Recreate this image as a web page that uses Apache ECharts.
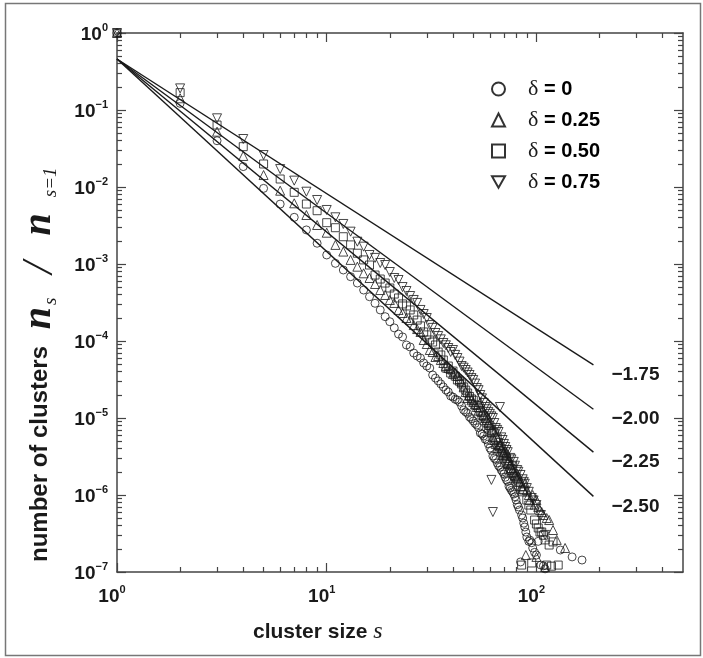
<!DOCTYPE html>
<html>
<head>
<meta charset="utf-8">
<script src="https://cdn.jsdelivr.net/npm/echarts@6/dist/echarts.min.js"></script>
<style>
html, body { margin: 0; padding: 0; background: #fff; }
#chart { width: 703px; height: 658px; }
</style>
</head>
<body>
<div id="chart"></div>
<script>
// cluster size s, n_s / n_(s=1)
var delta0 = [[1,1],[2,0.122],[3,0.0399],[4,0.0184],[5,0.0096],[6,0.0060],[7,0.00404],[8,0.00277],[9,0.00186],[10,0.00131],
    [11,0.00102],[12,8.36e-4],[13,6.84e-4],[14,5.66e-4],[15,4.59e-4],[16,3.76e-4],[17,3.09e-4],[18,2.53e-4],[19,2.07e-4],[20,1.78e-4],
    [21,1.48e-4],[22,1.23e-4],[23,1.13e-4],[24,8.87e-5],[25,8.36e-5],[26,6.98e-5],[27,6.38e-5],[28,6.01e-5],[29,5.18e-5],[30,4.73e-5],
    [31,4.46e-5],[32,3.62e-5],[33,3.30e-5],[34,3.03e-5],[35,2.77e-5],[36,2.53e-5],[37,2.31e-5],[38,2.18e-5],[39,1.93e-5],[40,1.87e-5],
    [41,1.75e-5],[42,1.71e-5],[43,1.61e-5],[44,1.43e-5],[45,1.27e-5],[46,1.20e-5],[47,1.15e-5],[48,1.03e-5],[49,9.8e-6],[50,9.14e-6],
    [51,8.5e-6],[52,8.11e-6],[53,7.5e-6],[54,6.38e-6],[55,6.2e-6],[56,5.83e-6],[57,5.3e-6],[58,5.18e-6],[59,4.6e-6],[60,4.07e-6],
    [61,3.8e-6],[62,3.21e-6],[63,3.0e-6],[64,2.9e-6],[65,2.61e-6],[66,2.4e-6],[67,2.3e-6],[68,2.11e-6],[69,2.0e-6],[70,1.87e-6],
    [71,1.7e-6],[72,1.57e-6],[73,1.5e-6],[74,1.3e-6],[75,1.23e-6],[76,1.15e-6],[77,1.1e-6],[78,1.03e-6],[79,9.5e-7],[80,8.61e-7],
    [81,7.5e-7],[82,7.0e-7],[83,6.38e-7],[84,1.35e-7],[85,5.5e-7],[86,5.02e-7],[87,4.3e-7],[88,3.84e-7],[89,3.3e-7],[90,2.85e-7],
    [92,2.5e-7],[93,2.60e-7],[95,2.4e-7],[96,2.05e-7],[98,1.8e-7],[100,1.66e-7],[102,2.5e-7],[105,1.23e-7],[108,1.2e-7],[110,1.10e-7],
    [130,1.93e-7],[148,1.57e-7],[165,1.43e-7]];

var delta25 = [[1,1],[2,0.142],[3,0.0523],[4,0.0253],[5,0.0143],[6,0.00895],[7,0.00614],[8,0.00433],[9,0.00321],[10,0.00255],
    [11,0.00177],[12,0.00145],[13,0.00113],[14,9.23e-4],[15,7.57e-4],[16,6.58e-4],[17,5.50e-4],[18,4.59e-4],[19,3.96e-4],[20,3.41e-4],
    [21,3.12e-4],[22,2.53e-4],[23,2.31e-4],[24,1.99e-4],[25,1.87e-4],[26,1.61e-4],[27,1.43e-4],[28,1.31e-4],[29,1.03e-4],[30,9.14e-5],
    [31,7.64e-5],[32,7.19e-5],[33,6.20e-5],[34,6.38e-5],[35,5.66e-5],[36,5.18e-5],[37,4.73e-5],[38,4.46e-5],[39,4.33e-5],[40,3.73e-5],
    [41,3.9e-5],[42,3.51e-5],[43,3.2e-5],[44,2.94e-5],[45,2.5e-5],[46,2.18e-5],[47,1.82e-5],[48,1.99e-5],[49,1.7e-5],[50,1.61e-5],
    [51,1.5e-5],[52,1.39e-5],[53,1.25e-5],[54,1.61e-5],[55,1.2e-5],[56,1.09e-5],[57,1.0e-5],[58,9.42e-6],[59,8.6e-6],[60,8.11e-6],
    [61,6.9e-6],[62,5.66e-6],[63,5.18e-6],[64,4.6e-6],[65,4.07e-6],[66,4.4e-6],[67,4.46e-6],[68,3.9e-6],[69,3.3e-6],[70,3.62e-6],
    [71,3.0e-6],[72,3.53e-6],[73,2.6e-6],[74,2.85e-6],[75,2.5e-6],[76,2.24e-6],[77,2.1e-6],[78,1.99e-6],[79,1.8e-6],[80,1.66e-6],
    [82,1.75e-6],[83,1.5e-6],[85,1.31e-6],[86,1.2e-6],[88,1.42e-6],[89,1.66e-7],[90,1.16e-6],[92,1.0e-6],[93,8.61e-7],[96,1.0e-6],
    [98,7.5e-7],[100,8.61e-7],[100,1.57e-7],[102,7.0e-7],[104,6.38e-7],[106,6.0e-7],[108,5.50e-7],[110,1.16e-7],[112,5.02e-7],
    [115,4.73e-7],[120,3.51e-7],[125,2.61e-7],[137,2.05e-7]];

var delta50 = [[1,1],[2,0.168],[3,0.0638],[4,0.0334],[5,0.0199],[6,0.0127],[7,0.00853],[8,0.00601],[9,0.00492],[10,0.00344],
    [11,0.00296],[12,0.00226],[13,0.00177],[14,0.00138],[15,0.00113],[16,9.70e-4],[17,7.19e-4],[18,6.38e-4],[19,5.66e-4],[20,4.88e-4],
    [21,4.07e-4],[22,3.62e-4],[23,3.03e-4],[24,2.85e-4],[25,2.53e-4],[26,2.18e-4],[27,1.87e-4],[28,1.57e-4],[29,1.31e-4],[30,1.20e-4],
    [31,1.03e-4],[32,9.70e-5],[33,8.87e-5],[34,7.19e-5],[35,6.58e-5],[36,5.66e-5],[37,4.46e-5],[38,4.73e-5],[39,3.84e-5],[40,4.07e-5],
    [41,3.5e-5],[42,3.12e-5],[43,3.0e-5],[44,2.77e-5],[45,2.53e-5],[46,2.3e-5],[47,2.11e-5],[48,1.9e-5],[49,1.77e-5],[50,1.7e-5],
    [51,1.48e-5],[52,1.45e-5],[53,1.35e-5],[54,1.2e-5],[55,1.09e-5],[56,1.05e-5],[57,1.0e-5],[58,8.8e-6],[59,7.41e-6],[60,7.9e-6],
    [61,6.98e-6],[62,6.5e-6],[63,6.38e-6],[64,5.3e-6],[65,5.50e-6],[66,4.8e-6],[67,4.20e-6],[68,4.0e-6],[69,3.62e-6],[70,3.4e-6],
    [71,3.21e-6],[72,3.0e-6],[73,2.69e-6],[74,2.5e-6],[75,2.11e-6],[76,2.2e-6],[77,2.38e-6],[78,1.9e-6],[79,1.77e-6],[80,1.7e-6],
    [81,1.57e-6],[82,1.45e-6],[84,1.27e-6],[85,1.23e-7],[86,1.1e-6],[87,1.16e-6],[90,8.61e-7],[92,7.4e-7],[94,6.38e-7],[95,1.31e-7],
    [98,4.73e-7],[100,4.2e-7],[102,3.73e-7],[104,3.3e-7],[106,3.31e-7],[108,3.0e-7],[110,2.61e-7],[112,1.23e-7],[115,2.24e-7],
    [118,1.19e-7],[120,2.46e-7],[127,1.23e-7]];

var delta75 = [[1,1],[2,0.191],[3,0.078],[4,0.042],[5,0.026],[6,0.0171],[7,0.0121],[8,0.00869],[9,0.00678],[10,0.00503],
    [11,0.00404],[12,0.00331],[13,0.00263],[14,0.00195],[15,0.00168],[16,0.00131],[17,1.20e-3],[18,1.03e-3],[19,9.70e-4],[20,7.87e-4],
    [21,6.58e-4],[22,6.20e-4],[23,5.02e-4],[24,4.46e-4],[25,3.84e-4],[26,3.41e-4],[27,3.12e-4],[28,2.53e-4],[29,2.24e-4],[30,1.99e-4],
    [31,1.61e-4],[32,1.48e-4],[33,1.27e-4],[34,1.16e-4],[35,1.05e-4],[36,9.42e-5],[37,8.8e-5],[38,8.11e-5],[39,7.2e-5],[40,7.64e-5],
    [41,6.6e-5],[42,6.01e-5],[43,5.4e-5],[44,4.73e-5],[45,4.5e-5],[46,4.20e-5],[47,3.9e-5],[48,3.62e-5],[49,3.3e-5],[50,3.12e-5],
    [51,2.8e-5],[52,2.45e-5],[53,2.3e-5],[54,1.99e-5],[55,1.8e-5],[56,1.57e-5],[57,1.39e-5],[58,1.3e-5],[59,1.2e-5],[60,1.13e-5],
    [61,1.05e-5],[61,1.57e-6],[62,1.0e-5],[62,6.01e-7],[63,8.6e-6],[64,7.41e-6],[65,7.0e-6],[66,6.58e-6],[67,1.39e-5],[68,5.6e-6],
    [69,5.18e-6],[70,4.6e-6],[71,4.2e-6],[72,3.84e-6],[73,3.6e-6],[75,3.03e-6],[76,2.9e-6],[78,2.69e-6],[79,2.4e-6],[81,2.11e-6],
    [82,2.0e-6],[84,1.82e-6],[86,1.6e-6],[87,1.48e-6],[88,1.4e-6],[90,1.23e-6],[92,1.1e-6],[95,9.14e-7],[97,8.5e-7],[100,7.41e-7],
    [105,5.50e-7],[110,3.03e-7]];

// power-law guide lines: common start, end at s = 187
var fitLabels = ['\u22121.75', '\u22122.00', '\u22122.25', '\u22122.50'];
var fitStart = [1, 0.46];
var fitEndS = 187;
var fitEndValues = [4.9e-5, 1.3e-5, 3.6e-6, 9.6e-7];

var legendNames = ['\u03b4 = 0', '\u03b4 = 0.25', '\u03b4 = 0.50', '\u03b4 = 0.75'];

// ticks
var xMajor = [1, 10, 100];
var xMinor = [2, 3, 4, 5, 6, 7, 8, 9, 20, 30, 40, 50, 60, 70, 80, 90, 200, 300, 400];
var yMajor = [1e-7, 1e-6, 1e-5, 1e-4, 1e-3, 1e-2, 1e-1, 1];
var yMinor = [];
for (var d = -7; d < 0; d++) {
    for (var k = 2; k <= 9; k++) {
        yMinor.push(parseFloat((k * Math.pow(10, d)).toPrecision(3)));
    }
}

var SANS = '"Liberation Sans", Arial, Helvetica, sans-serif';
var SERIF = '"Liberation Serif", "DejaVu Serif", serif';
var INK = '#1a1a1a';
var AXIS = '#444';

function powLabel(v) {
    var e = Math.round(Math.log10(v));
    var t = e < 0 ? '\u2212' + (-e) : '' + e;
    return '{b|10}{e|' + t + '}';
}
var powRich = {
    b: { fontFamily: SANS, fontWeight: 'bold', fontSize: 19, color: INK, lineHeight: 22, verticalAlign: 'bottom' },
    e: { fontFamily: SANS, fontWeight: 'bold', fontSize: 11, color: INK, lineHeight: 22, verticalAlign: 'top' }
};

function makeAxis(kind, pos, major, withLabel) {
    var isX = kind === 'x';
    var ax = {
        type: 'log',
        logBase: 10,
        min: isX ? 1 : 1e-7,
        max: isX ? 500 : 1,
        position: pos,
        splitLine: { show: false },
        axisLine: { show: major, lineStyle: { color: AXIS, width: 1.5 } },
        axisTick: {
            show: true,
            inside: true,
            length: major ? 9 : 5,
            customValues: isX ? (major ? xMajor : xMinor) : (major ? yMajor : yMinor),
            lineStyle: { color: AXIS, width: 1.2 }
        },
        axisLabel: { show: false }
    };
    if (withLabel) {
        ax.axisLabel = {
            show: true,
            customValues: isX ? xMajor : yMajor,
            formatter: powLabel,
            rich: powRich,
            margin: isX ? 12 : 9,
            padding: isX ? [0, 10, 0, 0] : 0
        };
    }
    return ax;
}

var chart = echarts.init(document.getElementById('chart'), null, { renderer: 'canvas' });

var markerStyle = { color: 'rgba(0,0,0,0)', borderColor: INK, borderWidth: 1 };
var downTri = 'path://M0,0L20,0L10,17.32Z';

var series = [];
fitEndValues.forEach(function (v, i) {
    series.push({
        type: 'line',
        name: 'fit' + i,
        xAxisIndex: 0,
        yAxisIndex: 0,
        data: [fitStart, [fitEndS, v]],
        symbol: 'none',
        silent: true,
        z: 1,
        lineStyle: { color: INK, width: 1.4 },
        endLabel: {
            show: true,
            formatter: fitLabels[i],
            offset: [10, 10],
            fontFamily: SANS,
            fontWeight: 'bold',
            fontSize: 19,
            color: INK
        }
    });
});
var sets = [delta0, delta25, delta50, delta75];
var symbols = ['circle', 'triangle', 'rect', downTri];
var sizes = [8, 9, 8, 9];
sets.forEach(function (d, i) {
    series.push({
        type: 'scatter',
        name: legendNames[i],
        xAxisIndex: 0,
        yAxisIndex: 0,
        data: d,
        symbol: symbols[i],
        symbolSize: sizes[i],
        itemStyle: markerStyle,
        z: 2
    });
});

var option = {
    animation: false,
    backgroundColor: '#fff',
    grid: { left: 117, right: 20, top: 33, bottom: 86, containLabel: false },
    xAxis: [
        makeAxis('x', 'bottom', true, true),
        makeAxis('x', 'bottom', false, false),
        makeAxis('x', 'top', true, false),
        makeAxis('x', 'top', false, false)
    ],
    yAxis: [
        makeAxis('y', 'left', true, true),
        makeAxis('y', 'left', false, false),
        makeAxis('y', 'right', true, false),
        makeAxis('y', 'right', false, false)
    ],
    legend: {
        data: legendNames,
        orient: 'vertical',
        left: 486,
        top: 73,
        itemWidth: 13,
        itemHeight: 13,
        itemGap: 9,
        selectedMode: false,
        itemStyle: { borderWidth: 2, borderColor: '#000' },
        formatter: function (name) {
            return '{d|\u03b4}{t| = ' + name.split('= ')[1] + '}';
        },
        textStyle: {
            rich: {
                d: { fontFamily: SERIF, fontSize: 22, color: INK, padding: [0, 0, 0, 18], lineHeight: 22 },
                t: { fontFamily: SANS, fontWeight: 'bold', fontSize: 20, color: '#000', lineHeight: 22 }
            }
        }
    },
    graphic: [
        {
            type: 'rect',
            silent: true,
            z: -10,
            shape: { x: 5.5, y: 3.5, width: 695, height: 652 },
            style: { fill: 'none', stroke: '#777', lineWidth: 1.5 }
        },
        {
            type: 'text',
            x: 40,
            y: 562,
            rotation: Math.PI / 2,
            style: {
                text: '{t|number of clusters }{n|n}{s|s}{sl|/}{n|n}{s1|s=1}',
                align: 'left',
                verticalAlign: 'middle',
                rich: {
                    t: { fontFamily: SANS, fontWeight: 'bold', fontSize: 24, fill: INK, lineHeight: 40, verticalAlign: 'middle' },
                    n: { fontFamily: SERIF, fontStyle: 'italic', fontWeight: 'bold', fontSize: 40, fill: INK, lineHeight: 40, verticalAlign: 'middle', padding: [0, 2, 0, 10] },
                    sl: { fontFamily: SERIF, fontStyle: 'italic', fontSize: 44, fill: INK, lineHeight: 40, verticalAlign: 'middle', padding: [0, 16, 0, 14] },
                    s: { fontFamily: SERIF, fontStyle: 'italic', fontSize: 19, fill: INK, lineHeight: 40, verticalAlign: 'bottom', padding: [0, 10, 0, 0] },
                    s1: { fontFamily: SERIF, fontStyle: 'italic', fontSize: 19, fill: INK, lineHeight: 40, verticalAlign: 'bottom', padding: [0, 0, 0, 14] }
                }
            }
        },
        {
            type: 'text',
            x: 253,
            y: 632,
            style: {
                text: '{t|cluster size }{n|s}',
                align: 'left',
                verticalAlign: 'middle',
                rich: {
                    t: { fontFamily: SANS, fontWeight: 'bold', fontSize: 21, fill: INK, lineHeight: 26 },
                    n: { fontFamily: SERIF, fontStyle: 'italic', fontSize: 24, fill: INK, lineHeight: 26 }
                }
            }
        }
    ],
    series: series
};

chart.setOption(option);
</script>
</body>
</html>
